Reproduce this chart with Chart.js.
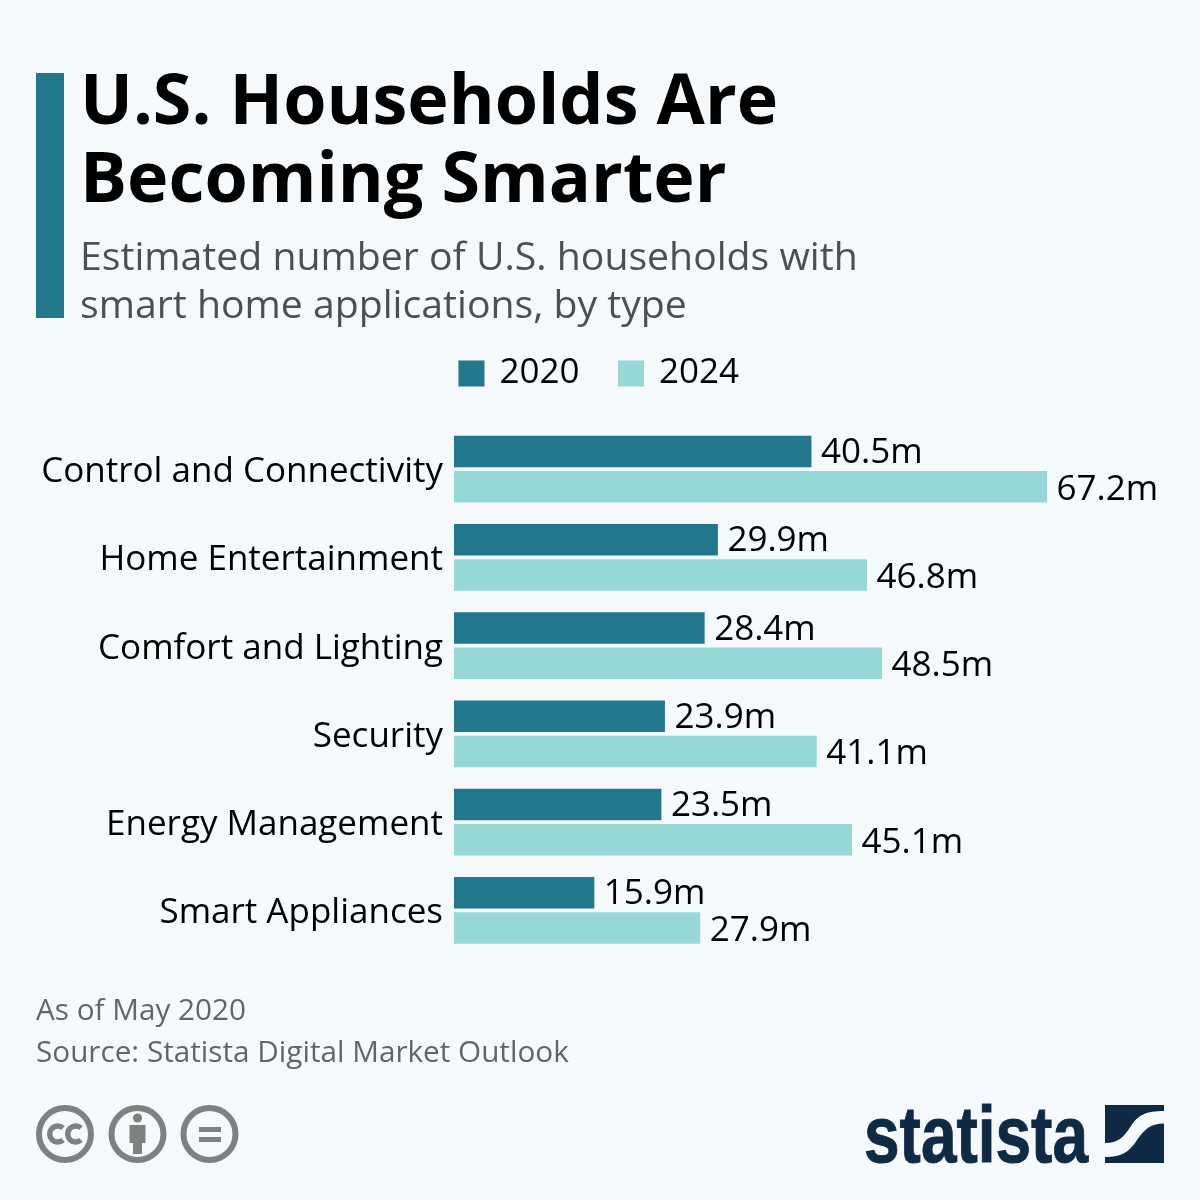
<!DOCTYPE html>
<html><head><meta charset="utf-8">
<script src="https://cdn.jsdelivr.net/npm/chart.js@4"></script>
<style>
html,body{margin:0;padding:0;background:#f5f9fc;}
#wrap{position:relative;width:1200px;height:1200px;overflow:hidden;background:#f5f9fc;font-family:"Open Sans",sans-serif;}
canvas{position:absolute;left:0;top:0;}
.t{position:absolute;white-space:nowrap;}
#accent{position:absolute;left:36px;top:73px;width:28px;height:245px;background:#21778c;}
#title{left:80px;top:58px;font-size:70px;font-weight:700;line-height:78px;color:#000;}
#sub{left:80px;top:230.5px;font-size:39.2px;line-height:48.5px;color:#4a5154;}
#foot{left:36px;top:988px;font-size:29.7px;line-height:42px;color:#60676a;}
svg{position:absolute;}
</style></head><body>
<div id="wrap">
<canvas id="c" width="1200" height="1200"></canvas>
<div id="accent"></div>
<div class="t" id="title">U.S. Households Are<br>Becoming Smarter</div>
<div class="t" id="sub">Estimated number of U.S. households with<br>smart home applications, by type</div>
<div class="t" id="foot">As of May 2020<br>Source: Statista Digital Market Outlook</div>
<svg style="left:30px;top:1100px" width="220" height="70" viewBox="0 0 220 70">
  <g fill="none" stroke="#7c8280" stroke-width="6">
    <circle cx="35" cy="34" r="26"/><circle cx="107.5" cy="34" r="26"/><circle cx="179.5" cy="34" r="26"/>
  </g>
  <g fill="none" stroke="#7c8280" stroke-width="5.5">
    <path d="M33 28 a8 8 0 1 0 0 12"/><path d="M51 28 a8 8 0 1 0 0 12"/>
  </g>
  <g fill="#7c8280">
    <circle cx="107.5" cy="18" r="4.5"/>
    <path d="M99.5 25 H115.5 V43 H112 V54 H103 V43 H99.5 Z"/>
    <rect x="169" y="27" width="22" height="5"/><rect x="169" y="37" width="22" height="5"/>
  </g>
</svg>
<svg style="left:850px;top:1090px" width="330" height="90" viewBox="0 0 330 90">
  <text x="14" y="72" font-family="Liberation Sans Narrow, Liberation Sans" font-weight="700" font-size="80" fill="#0f2a44" stroke="#0f2a44" stroke-width="1" textLength="224" lengthAdjust="spacingAndGlyphs">statista</text>
  <path fill="#0f2a44" d="M255 15 H314 V21 C296 21 288 25 281 36 C273 48 268 53 255 53 Z"/>
  <path fill="#0f2a44" d="M314 33.5 V73 H255 V67 C272 67 279 62 287 50 C294 40 300 33.5 314 33.5 Z"/>
</svg>
</div>
<script>
const categories = ["Control and Connectivity","Home Entertainment","Comfort and Lighting","Security","Energy Management","Smart Appliances"];
const values2020 = [40.5,29.9,28.4,23.9,23.5,15.9];
const values2024 = [67.2,46.8,48.5,41.1,45.1,27.9];
const seriesNames = ["2020","2024"];
const DARK="#21778c", LIGHT="#96d8d5";
const FONT={family:'"Open Sans"',size:35};
const LEGEND_EXTRA=24;

const valueLabels={id:'valueLabels',
  afterDatasetsDraw(chart){
    const ctx=chart.ctx;ctx.save();
    ctx.font='35px "Open Sans"';ctx.fillStyle='#000';ctx.textAlign='left';ctx.textBaseline='middle';
    chart.data.datasets.forEach((ds,i)=>{
      chart.getDatasetMeta(i).data.forEach((bar,j)=>{
        ctx.fillText(ds.data[j].toFixed(1)+'m',bar.x+9.5,bar.y+(i===0?1.5:3));
      });
    });
    ctx.restore();
  }};
const legendGap={id:'legendGap',
  beforeLayout(chart){
    const lg=chart.legend;
    if(lg&&!lg._gapped){
      const fit=lg.fit.bind(lg);
      lg.fit=function(){fit();this.height+=LEGEND_EXTRA;};
      lg._gapped=true;
    }
  }};

document.fonts.load('35px "Open Sans"').finally(()=>{
new Chart(document.getElementById('c'),{
  type:'bar',
  data:{labels:categories,datasets:[
    {label:seriesNames[0],data:values2020,backgroundColor:DARK,borderWidth:0,categoryPercentage:0.794,barPercentage:0.9},
    {label:seriesNames[1],data:values2024,backgroundColor:LIGHT,borderWidth:0,categoryPercentage:0.794,barPercentage:0.9}
  ]},
  plugins:[legendGap,valueLabels],
  options:{
    indexAxis:'y',responsive:false,animation:false,devicePixelRatio:1,
    layout:{padding:{top:315,left:0,right:0,bottom:245.5}},
    plugins:{
      tooltip:{enabled:false},
      legend:{display:true,position:'top',
        labels:{boxWidth:21,boxHeight:21,padding:41,color:'#000',font:{family:'"Open Sans"',size:35},
          generateLabels(chart){
            return chart.data.datasets.map((d,i)=>({text:d.label,fillStyle:d.backgroundColor,strokeStyle:d.backgroundColor,lineWidth:5,datasetIndex:i,hidden:false,fontColor:'#000'}));
          }}}
    },
    scales:{
      x:{display:false,min:0,max:84.53},
      y:{
        afterFit(s){s.width=454;},
        grid:{display:false,drawTicks:false},border:{display:false},
        ticks:{color:'#000',font:FONT,padding:11,autoSkip:false,labelOffset:3}
      }
    }
  }
});
});
</script>
</body></html>
